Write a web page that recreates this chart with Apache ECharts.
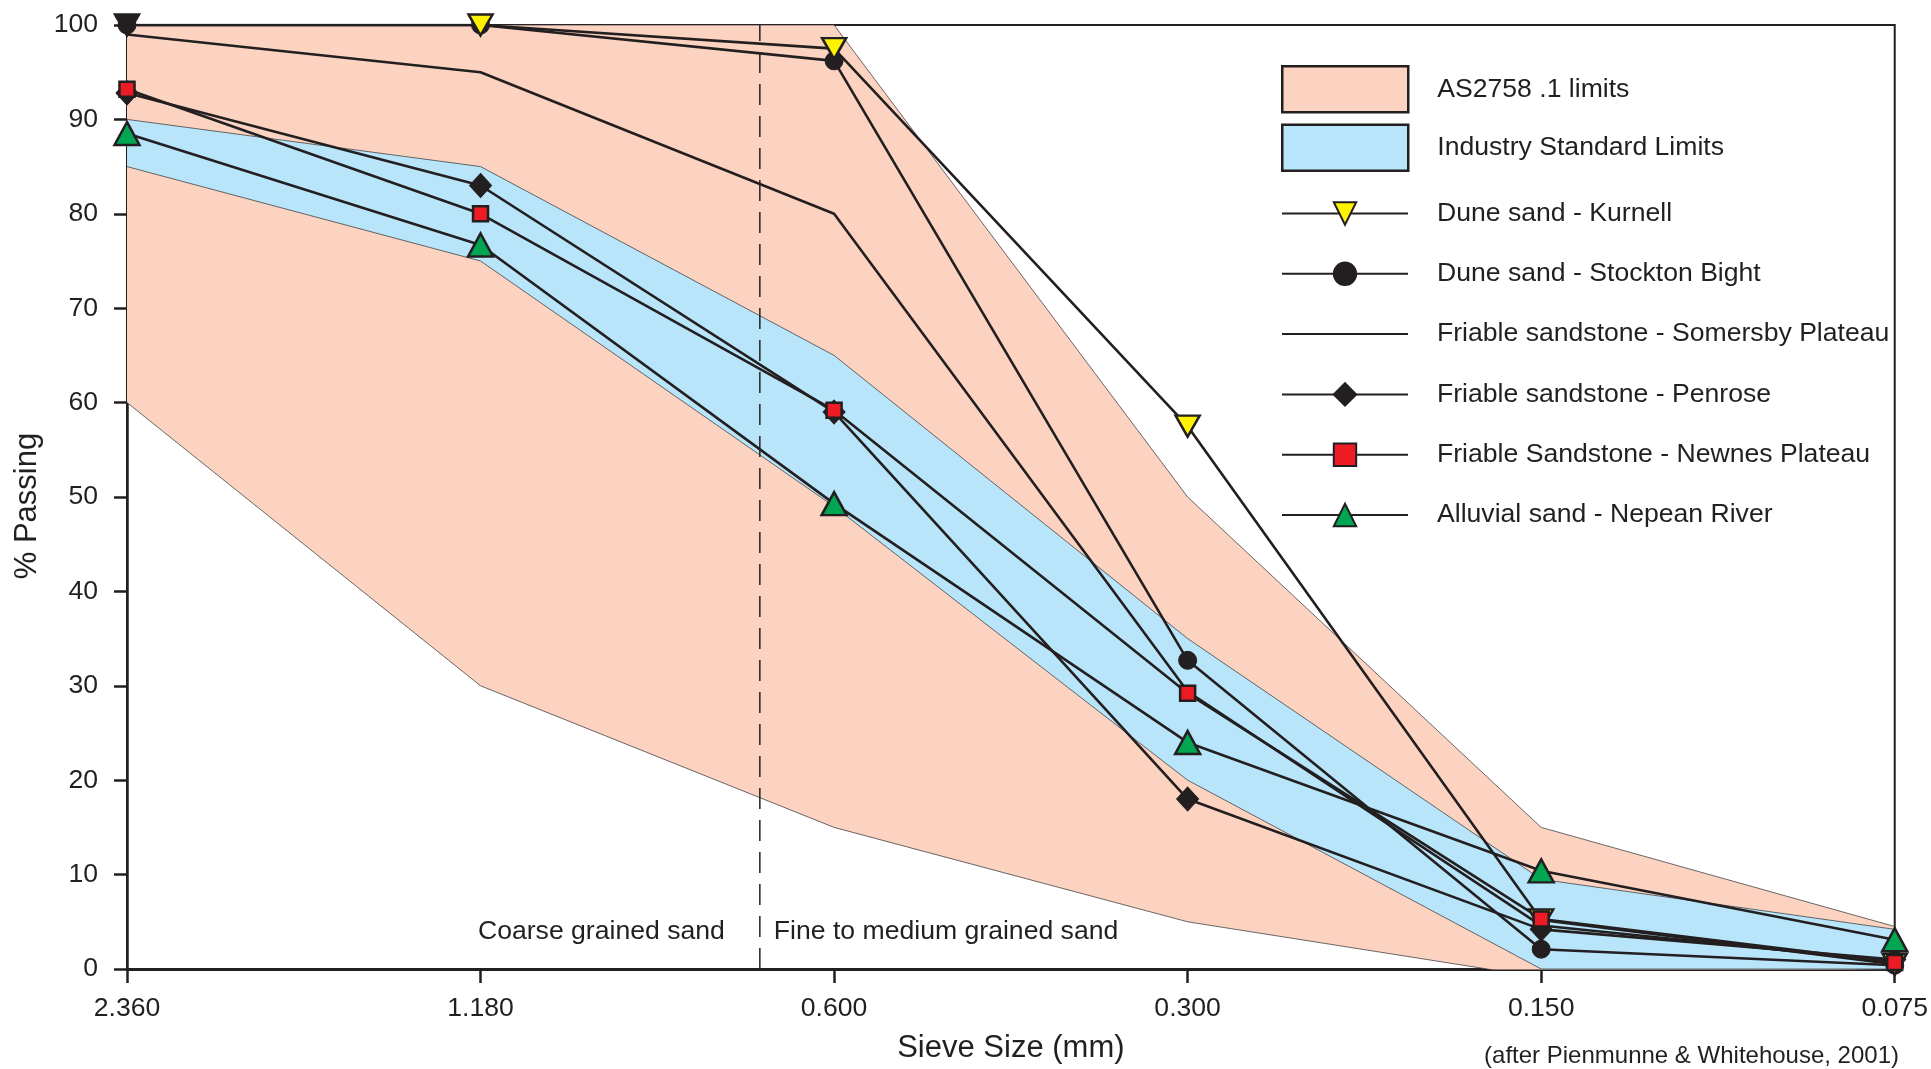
<!DOCTYPE html>
<html>
<head>
<meta charset="utf-8">
<style>html,body{margin:0;padding:0;background:#fff;overflow:hidden;width:1931px;height:1069px;}#chart{width:1931px;height:1069px;display:block;}</style>
<script src="https://cdn.jsdelivr.net/npm/echarts@6/dist/echarts.min.js"></script>
</head>
<body>
<div id="chart"></div>
<script>
// ---- data ----
const categories = ['2.360', '1.180', '0.600', '0.300', '0.150', '0.075'];
const asUpper = [100, 100, 100, 50, 15, 4.5];
const asLower = [60, 30, 15, 5, -0.9, 0];
const isUpper = [90, 85, 65, 35, 9.5, 4.2];
const isLower = [85, 75, 49, 20, 0, 0];
const kurnell = [100, 100, 97.5, 57.5, 5.2, 0.5];
const stockton = [100, 100, 96.2, 32.7, 2.1, 0.4];
const somersby = [99, 95, 80, 29.4, 4.6, 0.8];
const penrose = [92.8, 83, 59, 18, 4.2, 1.0];
const newnes = [93.2, 80, 59.2, 29.2, 5.3, 0.7];
const nepean = [88.5, 76.7, 49.3, 24, 10.4, 3.1];
const dividerPos = 1.79;   // between 1.180 and 0.600 (category index units)
const annotY = 4.0;

const INK = '#231f20';
const PINK = '#fcd3c1';
const BLUE = '#b8e5fa';
const FONT = "'Liberation Sans', Arial, sans-serif";
const FS = 26.6;

const chart = echarts.init(document.getElementById('chart'));

const lineBase = {
  type: 'line',
  lineStyle: { color: INK, width: 2.6 },
  itemStyle: { color: INK, borderColor: INK, borderWidth: 2.5 },
  emphasis: { disabled: true },
  animation: false,
  z: 5
};

const option = {
  animation: false,
  textStyle: { fontFamily: FONT, color: INK },
  title: {
    text: '(after Pienmunne & Whitehouse, 2001)',
    right: 32, top: 1044, padding: 0,
    textStyle: { fontFamily: FONT, fontSize: 24, fontWeight: 'normal', color: INK }
  },
  grid: {
    left: 127, right: 31, top: 25, bottom: 91,
    show: true, borderColor: INK, borderWidth: 2, backgroundColor: 'transparent'
  },
  legend: [
    {
      orient: 'vertical', left: 1276, top: 60,
      itemWidth: 126, itemHeight: 46, itemGap: 10,
      selectedMode: false,
      textStyle: { fontFamily: FONT, fontSize: FS, color: INK, padding: [0, 0, 0, 24] },
      data: [
        { name: 'AS2758 .1 limits', icon: 'rect', itemStyle: { color: PINK, borderColor: INK, borderWidth: 2.5 } },
        { name: 'Industry Standard Limits', icon: 'rect', itemStyle: { color: BLUE, borderColor: INK, borderWidth: 2.5 } }
      ]
    },
    {
      orient: 'vertical', left: 1276, top: 195,
      itemWidth: 126, itemHeight: 28, itemGap: 33.3,
      selectedMode: false,
      textStyle: { fontFamily: FONT, fontSize: FS, color: INK, padding: [0, 0, 0, 24] },
      data: [
        'Dune sand - Kurnell',
        'Dune sand - Stockton Bight',
        { name: 'Friable sandstone - Somersby Plateau', itemStyle: { opacity: 0 } },
        'Friable sandstone - Penrose',
        'Friable Sandstone - Newnes Plateau',
        'Alluvial sand - Nepean River'
      ]
    }
  ],
  xAxis: [
    {
      type: 'category', data: categories, boundaryGap: false,
      name: 'Sieve Size (mm)', nameLocation: 'middle', nameGap: 64,
      nameTextStyle: { fontFamily: FONT, fontSize: 31, color: INK },
      axisLine: { lineStyle: { color: INK, width: 3 } },
      axisTick: { show: true, length: 14, lineStyle: { color: INK, width: 2.5 } },
      axisLabel: { fontFamily: FONT, fontSize: FS, color: INK, margin: 26 },
      splitLine: { show: false }
    },
    { type: 'value', min: 0, max: 5, show: false }
  ],
  yAxis: {
    type: 'value', min: 0, max: 100, interval: 10,
    name: '% Passing', nameLocation: 'middle', nameGap: 82,
    nameTextStyle: { fontFamily: FONT, fontSize: 31, color: INK, padding: [0, 18, 0, 0] },
    axisLine: { show: true, lineStyle: { color: INK, width: 2.5 } },
    axisTick: { show: true, length: 13, lineStyle: { color: INK, width: 2.5 } },
    axisLabel: { fontFamily: FONT, fontSize: FS, color: INK, margin: 29 },
    splitLine: { show: false }
  },
  series: [
    // AS2758.1 band
    {
      name: 'asLow', type: 'line', stack: 'as', stackStrategy: 'all',
      data: asLower, symbol: 'none', silent: true,
      lineStyle: { color: '#444', width: 0.8 }, z: 1
    },
    {
      name: 'AS2758 .1 limits', type: 'line', stack: 'as', stackStrategy: 'all',
      data: asUpper.map((v, i) => v - asLower[i]), symbol: 'none', silent: true,
      itemStyle: { color: PINK },
      lineStyle: { color: '#444', width: 0.8 },
      areaStyle: { color: PINK, opacity: 1 }, z: 1
    },
    // Industry standard band
    {
      name: 'isLow', type: 'line', stack: 'is', stackStrategy: 'all',
      data: isLower, symbol: 'none', silent: true,
      lineStyle: { color: '#444', width: 0.8 }, z: 2
    },
    {
      name: 'Industry Standard Limits', type: 'line', stack: 'is', stackStrategy: 'all',
      data: isUpper.map((v, i) => v - isLower[i]), symbol: 'none', silent: true,
      itemStyle: { color: BLUE },
      lineStyle: { color: '#444', width: 0.8 },
      areaStyle: { color: BLUE, opacity: 1 }, z: 2
    },
    // divider
    {
      name: 'divider', type: 'line', xAxisIndex: 1,
      data: [[dividerPos, 0], [dividerPos, 100]], symbol: 'none', silent: true,
      lineStyle: { color: INK, width: 1.5, type: [21, 11] }, z: 3
    },
    {
      name: 'annot', type: 'scatter', xAxisIndex: 1, symbolSize: 0, silent: true,
      itemStyle: { color: INK, opacity: 1 }, z: 6,
      label: { show: true, fontFamily: FONT, fontSize: FS, color: INK, opacity: 1, textBorderWidth: 0 },
      data: [
        { value: [dividerPos, annotY], label: { position: 'left', distance: 35, color: INK, formatter: 'Coarse grained sand' } },
        { value: [dividerPos, annotY], label: { position: 'right', distance: 14, color: INK, formatter: 'Fine to medium grained sand' } }
      ]
    },
    // data lines
    Object.assign({}, lineBase, {
      name: 'Friable sandstone - Somersby Plateau', data: somersby, symbol: 'none'
    }),
    Object.assign({}, lineBase, {
      name: 'Friable sandstone - Penrose', data: penrose,
      symbol: 'diamond', symbolSize: [22, 24],
      itemStyle: { color: INK, borderColor: INK, borderWidth: 1 }
    }),
    Object.assign({}, lineBase, {
      name: 'Dune sand - Stockton Bight', data: stockton,
      symbol: 'circle', symbolSize: 18,
      itemStyle: { color: INK, borderColor: INK, borderWidth: 1 }
    }),
    Object.assign({}, lineBase, {
      name: 'Dune sand - Kurnell',
      data: kurnell.map((v, i) => i === 0 ? { value: v, itemStyle: { color: INK } } : v),
      symbol: 'triangle', symbolRotate: 180, symbolSize: [24, 21],
      itemStyle: { color: '#fff200', borderColor: INK, borderWidth: 2.5 }
    }),
    Object.assign({}, lineBase, {
      name: 'Friable Sandstone - Newnes Plateau', data: newnes,
      symbol: 'rect', symbolSize: 15,
      itemStyle: { color: '#ed1c24', borderColor: INK, borderWidth: 2.5 }
    }),
    Object.assign({}, lineBase, {
      name: 'Alluvial sand - Nepean River', data: nepean,
      symbol: 'triangle', symbolSize: [25, 23],
      itemStyle: { color: '#00a651', borderColor: INK, borderWidth: 2.5 }
    })
  ]
};

chart.setOption(option);
</script>
</body>
</html>
